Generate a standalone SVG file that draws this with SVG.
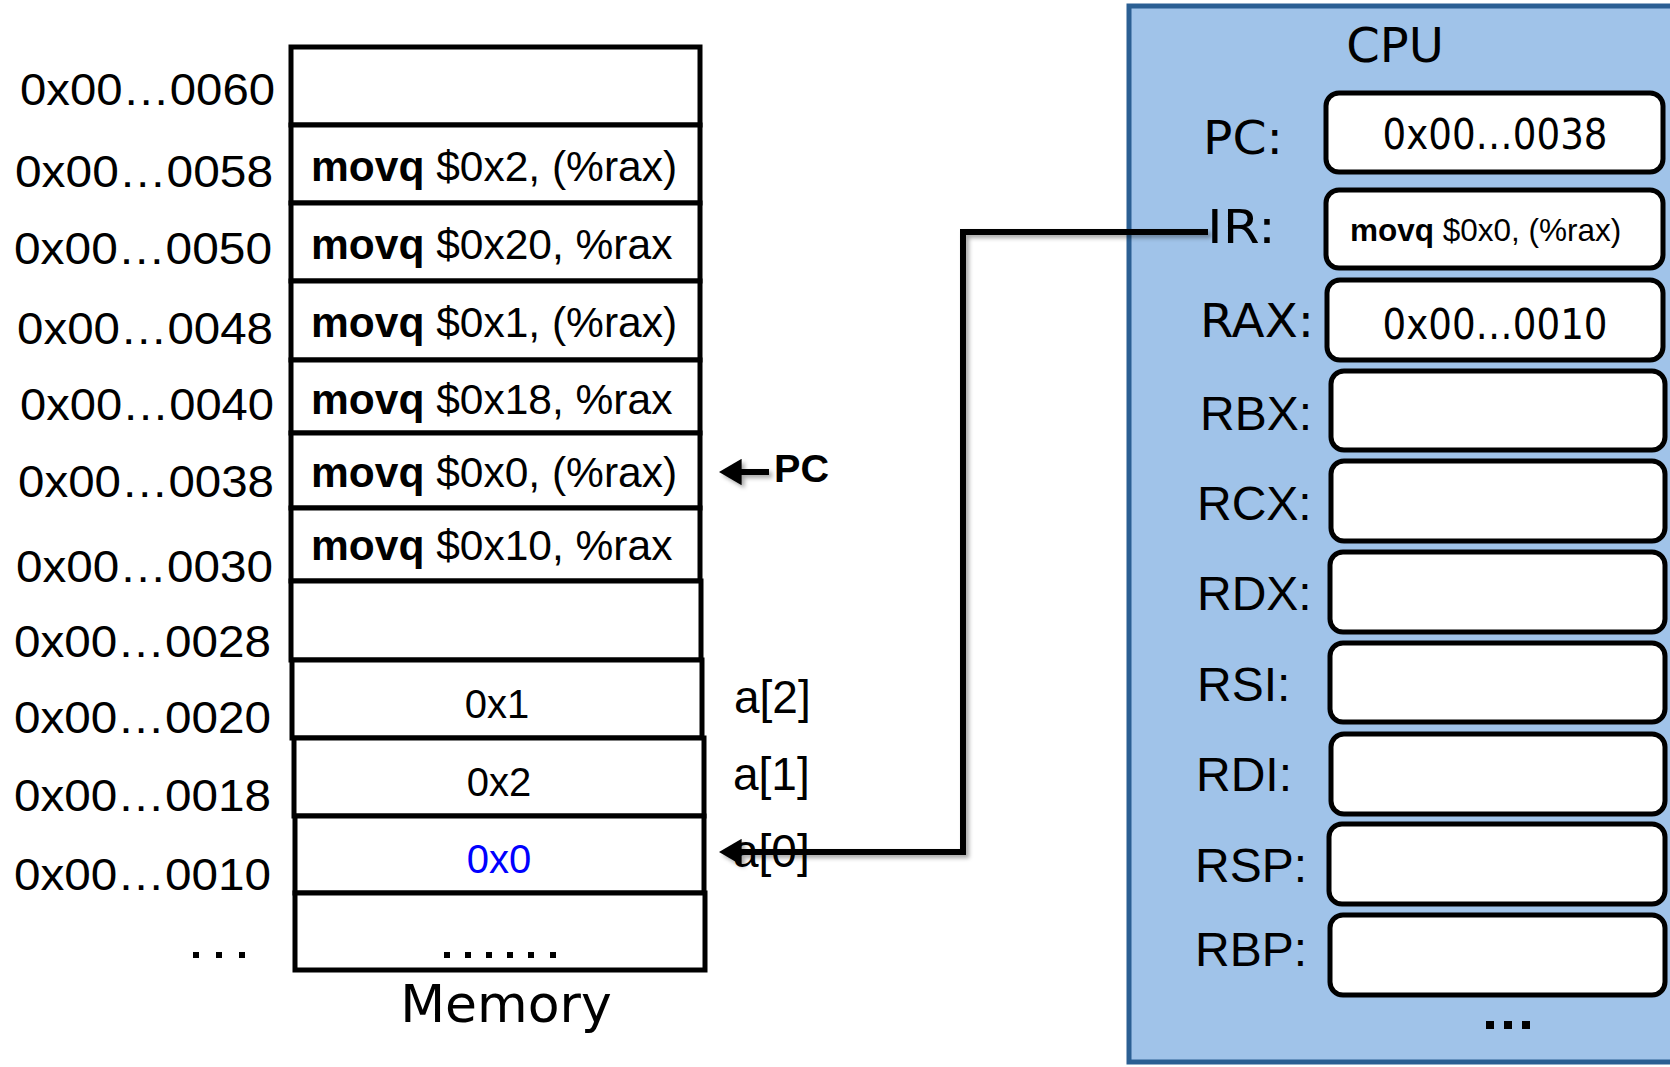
<svg xmlns="http://www.w3.org/2000/svg" width="1670" height="1067" viewBox="0 0 1670 1067">
<style>
.cell{fill:#fff;stroke:#000;stroke-width:5}
.addr{font-family:"Liberation Sans",Arial,sans-serif;font-size:45px;fill:#000}
.ins{font-family:"Liberation Sans",Arial,sans-serif;font-size:42.5px;fill:#000}
.b{font-weight:bold}
.val{font-family:"Liberation Sans",Arial,sans-serif;font-size:40px;fill:#000;text-anchor:middle}
.lbl{font-family:"Liberation Sans",Arial,sans-serif;font-size:46px;fill:#000}
.tah{font-family:"DejaVu Sans",Verdana,sans-serif;fill:#000}
.reg{fill:#fff;stroke:#000;stroke-width:5}
.rl{font-family:"Liberation Sans",Arial,sans-serif;font-size:48px;fill:#000}
.conn{fill:none;stroke:#000;stroke-width:6}
</style>
<defs>
<filter id="sh" filterUnits="userSpaceOnUse" x="0" y="0" width="1670" height="1067">
<feDropShadow dx="3" dy="3" stdDeviation="2" flood-color="#000" flood-opacity="0.35"/>
</filter>
<marker id="ah" markerWidth="3.8" markerHeight="4.4" refX="2.1" refY="2.2" orient="auto" markerUnits="strokeWidth">
<path d="M0,0 L3.8,2.2 L0,4.4 Z" fill="#000"/>
</marker>
</defs>

<g id="cpu">
<rect x="1129" y="6" width="560" height="1056" fill="#A0C3E9" stroke="#2B5F93" stroke-width="5"/>
<text class="tah" x="1395" y="62" font-size="48" text-anchor="middle">CPU</text>
</g>

<g id="memory">
<g id="m0060"><rect class="cell" x="291" y="47" width="409" height="78"/><text class="addr" x="275" y="105" text-anchor="end" textLength="255" lengthAdjust="spacingAndGlyphs">0x00…0060</text></g>
<g id="m0058"><rect class="cell" x="291" y="125" width="409" height="78"/><text class="addr" x="273" y="187" text-anchor="end" textLength="258" lengthAdjust="spacingAndGlyphs">0x00…0058</text><text class="ins" x="311" y="181"><tspan class="b">movq</tspan> $0x2, (%rax)</text></g>
<g id="m0050"><rect class="cell" x="291" y="203" width="409" height="78"/><text class="addr" x="272" y="264" text-anchor="end" textLength="258" lengthAdjust="spacingAndGlyphs">0x00…0050</text><text class="ins" x="311" y="259"><tspan class="b">movq</tspan> $0x20, %rax</text></g>
<g id="m0048"><rect class="cell" x="291" y="281" width="409" height="79"/><text class="addr" x="273" y="344" text-anchor="end" textLength="256" lengthAdjust="spacingAndGlyphs">0x00…0048</text><text class="ins" x="311" y="337"><tspan class="b">movq</tspan> $0x1, (%rax)</text></g>
<g id="m0040"><rect class="cell" x="291" y="360" width="409" height="73"/><text class="addr" x="274" y="420" text-anchor="end" textLength="254" lengthAdjust="spacingAndGlyphs">0x00…0040</text><text class="ins" x="311" y="414"><tspan class="b">movq</tspan> $0x18, %rax</text></g>
<g id="m0038"><rect class="cell" x="291" y="433" width="409" height="75"/><text class="addr" x="274" y="497" text-anchor="end" textLength="256" lengthAdjust="spacingAndGlyphs">0x00…0038</text><text class="ins" x="311" y="487"><tspan class="b">movq</tspan> $0x0, (%rax)</text></g>
<g id="m0030"><rect class="cell" x="291" y="508" width="409" height="73"/><text class="addr" x="273" y="582" text-anchor="end" textLength="257" lengthAdjust="spacingAndGlyphs">0x00…0030</text><text class="ins" x="311" y="560"><tspan class="b">movq</tspan> $0x10, %rax</text></g>
<g id="m0028"><rect class="cell" x="291" y="581" width="410" height="79"/><text class="addr" x="271" y="657" text-anchor="end" textLength="257" lengthAdjust="spacingAndGlyphs">0x00…0028</text></g>
<g id="m0020"><rect class="cell" x="292" y="660" width="410" height="78"/><text class="addr" x="271" y="733" text-anchor="end" textLength="257" lengthAdjust="spacingAndGlyphs">0x00…0020</text><text class="val" x="497" y="718">0x1</text><text class="lbl" x="734" y="713">a[2]</text></g>
<g id="m0018"><rect class="cell" x="294" y="738" width="410" height="78"/><text class="addr" x="271" y="811" text-anchor="end" textLength="257" lengthAdjust="spacingAndGlyphs">0x00…0018</text><text class="val" x="499" y="796">0x2</text><text class="lbl" x="733" y="790">a[1]</text></g>
<g id="m0010"><rect class="cell" x="295" y="816" width="409" height="77"/><text class="addr" x="271" y="890" text-anchor="end" textLength="257" lengthAdjust="spacingAndGlyphs">0x00…0010</text><text class="val" x="499" y="873" style="fill:#0000FF">0x0</text><text class="lbl" x="733" y="867">a[0]</text></g>
<g id="mdots"><rect class="cell" x="295" y="893" width="410" height="77"/>
<g fill="#000"><rect x="444" y="952" width="6" height="6"/><rect x="465" y="952" width="6" height="6"/><rect x="486" y="952" width="6" height="6"/><rect x="507" y="952" width="6" height="6"/><rect x="528" y="952" width="6" height="6"/><rect x="550" y="952" width="6" height="6"/></g>
<g fill="#000"><rect x="193" y="952" width="6" height="6"/><rect x="216" y="952" width="6" height="6"/><rect x="239" y="952" width="6" height="6"/></g>
</g>
<text class="tah" x="506" y="1022" font-size="52" text-anchor="middle">Memory</text>
</g>

<g id="pc-pointer">
<text x="774" y="482" font-family="Liberation Sans, Arial, sans-serif" font-size="38" font-weight="bold" textLength="55" lengthAdjust="spacingAndGlyphs">PC</text>
</g>

<g id="registers">
<g id="r-pc"><text class="tah" x="1203" y="154" font-size="46" textLength="80" lengthAdjust="spacingAndGlyphs">PC:</text><rect class="reg" x="1326" y="93" width="337" height="79" rx="13"/><text class="tah" x="1495" y="149" font-size="42" text-anchor="middle" textLength="225" lengthAdjust="spacingAndGlyphs">0x00…0038</text></g>
<g id="r-ir"><text class="tah" x="1207" y="243" font-size="46" textLength="69" lengthAdjust="spacingAndGlyphs">IR:</text><rect class="reg" x="1326" y="190" width="337" height="78" rx="13"/><text class="ins" x="1350" y="241" style="font-size:31.5px"><tspan class="b">movq</tspan> $0x0, (%rax)</text></g>
<g id="r-rax"><text class="tah" x="1200" y="337" font-size="46" textLength="114" lengthAdjust="spacingAndGlyphs">RAX:</text><rect class="reg" x="1327" y="280" width="336" height="80" rx="13"/><text class="tah" x="1495" y="339" font-size="42" text-anchor="middle" textLength="225" lengthAdjust="spacingAndGlyphs">0x00…0010</text></g>
<g id="r-rbx"><text class="rl" x="1200" y="430">RBX:</text><rect class="reg" x="1331" y="371" width="334" height="79" rx="13"/></g>
<g id="r-rcx"><text class="rl" x="1197" y="520">RCX:</text><rect class="reg" x="1331" y="461" width="334" height="80" rx="13"/></g>
<g id="r-rdx"><text class="rl" x="1197" y="610">RDX:</text><rect class="reg" x="1330" y="552" width="335" height="80" rx="13"/></g>
<g id="r-rsi"><text class="rl" x="1197" y="701">RSI:</text><rect class="reg" x="1330" y="643" width="335" height="79" rx="13"/></g>
<g id="r-rdi"><text class="rl" x="1196" y="791">RDI:</text><rect class="reg" x="1331" y="734" width="334" height="80" rx="13"/></g>
<g id="r-rsp"><text class="rl" x="1195" y="882">RSP:</text><rect class="reg" x="1329" y="824" width="336" height="80" rx="13"/></g>
<g id="r-rbp"><text class="rl" x="1195" y="966">RBP:</text><rect class="reg" x="1330" y="915" width="335" height="80" rx="13"/></g>
<g fill="#000"><rect x="1486" y="1021" width="8" height="8"/><rect x="1504" y="1021" width="8" height="8"/><rect x="1522" y="1021" width="8" height="8"/></g>
</g>

<g id="connectors">
<path class="conn" d="M1208,232 H963 V852 H729" marker-end="url(#ah)" filter="url(#sh)"/>
<path class="conn" d="M769,472 H729" marker-end="url(#ah)" filter="url(#sh)"/>
</g>
</svg>
